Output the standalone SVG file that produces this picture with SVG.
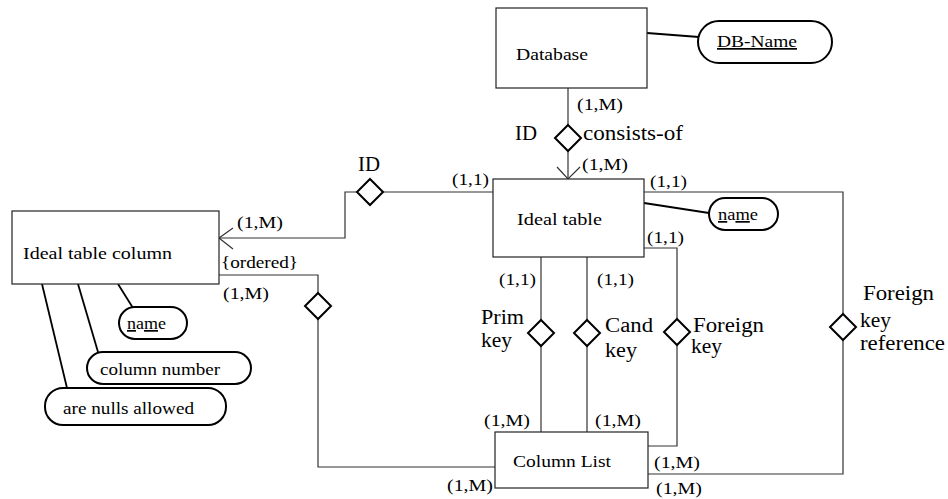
<svg xmlns="http://www.w3.org/2000/svg" width="948" height="499" viewBox="0 0 948 499">
<style>
  text { font-family: "Liberation Serif", serif; fill: #000; }
  .s { font-size: 17px; }
  .b { font-size: 20px; }
  .box { fill: #fff; stroke: #222; stroke-width: 1.2; }
  .oval { fill: #fff; stroke: #000; stroke-width: 2; }
  .dia { fill: #fff; stroke: #000; stroke-width: 2; }
  .attr { stroke: #000; stroke-width: 1.8; fill: none; }
  .conn { stroke: #333; stroke-width: 1.2; fill: none; }
  .u { text-decoration: underline; }
</style>
<rect width="948" height="499" fill="#fff"/>

<g id="connectors">
  <polyline class="conn" points="568,88 568,125"/>
  <polyline class="conn" points="568,151 568,179"/>
  <polyline class="conn" points="557,167 568,179 580,167"/>
  <polyline class="conn" points="493,192 383,192"/>
  <polyline class="conn" points="357,192 345,192 345,238 219,238"/>
  <polyline class="conn" points="233,228 219,238 233,249"/>
  <polyline class="conn" points="219,275 318,275 318,293"/>
  <polyline class="conn" points="318,319 318,467 495,467"/>
  <polyline class="conn" points="541,257 541,320"/>
  <polyline class="conn" points="541,346 541,432"/>
  <polyline class="conn" points="587,257 587,320"/>
  <polyline class="conn" points="587,346 587,432"/>
  <polyline class="conn" points="644,248 677,248 677,319"/>
  <polyline class="conn" points="677,345 677,446 648,446"/>
  <polyline class="conn" points="644,192 843,192 843,314"/>
  <polyline class="conn" points="843,340 843,474 648,474"/>
  <line class="attr" x1="647" y1="33" x2="699" y2="37"/>
  <line class="attr" x1="644" y1="203" x2="709" y2="213"/>
  <line class="attr" x1="118" y1="284" x2="133" y2="308"/>
  <line class="attr" x1="78" y1="284" x2="98" y2="352"/>
  <line class="attr" x1="42" y1="284" x2="67" y2="388"/>
</g>

<g id="database">
  <rect class="box" x="496" y="8" width="151" height="80"/>
  <text class="s" x="516" y="60" textLength="72" lengthAdjust="spacingAndGlyphs">Database</text>
</g>
<g id="db-name">
  <rect class="oval" x="698" y="21" width="134" height="42" rx="21"/>
  <text class="s u" x="717" y="47" textLength="80" lengthAdjust="spacingAndGlyphs">DB-Name</text>
</g>
<g id="ideal-table">
  <rect class="box" x="493" y="179" width="151" height="78"/>
  <text class="s" x="517" y="225" textLength="85" lengthAdjust="spacingAndGlyphs">Ideal table</text>
</g>
<g id="table-name">
  <rect class="oval" x="709" y="198" width="69" height="32" rx="16"/>
  <text class="s" x="718" y="220" textLength="40" lengthAdjust="spacingAndGlyphs"><tspan class="u">n</tspan>a<tspan class="u">m</tspan>e</text>
</g>
<g id="ideal-table-column">
  <rect class="box" x="12" y="211" width="207" height="73"/>
  <text class="s" x="23" y="259" textLength="149" lengthAdjust="spacingAndGlyphs">Ideal table column</text>
</g>
<g id="column-name">
  <rect class="oval" x="119" y="307" width="68" height="32" rx="16"/>
  <text class="s" x="127" y="329" textLength="39" lengthAdjust="spacingAndGlyphs"><tspan class="u">n</tspan>a<tspan class="u">m</tspan>e</text>
</g>
<g id="column-number">
  <rect class="oval" x="87" y="352" width="164" height="32" rx="16"/>
  <text class="s" x="100" y="375" textLength="120" lengthAdjust="spacingAndGlyphs">column number</text>
</g>
<g id="nulls-allowed">
  <rect class="oval" x="45" y="388" width="181" height="37" rx="18"/>
  <text class="s" x="63" y="414" textLength="131" lengthAdjust="spacingAndGlyphs">are nulls allowed</text>
</g>
<g id="column-list">
  <rect class="box" x="495" y="432" width="153" height="56"/>
  <text class="s" x="513" y="467" textLength="98" lengthAdjust="spacingAndGlyphs">Column List</text>
</g>

<g id="rel-consists-of">
  <polygon class="dia" points="568,125 581,138 568,151 555,138"/>
  <text class="b" x="515" y="140" textLength="22" lengthAdjust="spacingAndGlyphs">ID</text>
  <text class="b" x="583" y="140" textLength="100" lengthAdjust="spacingAndGlyphs">consists-of</text>
  <text class="s" x="577" y="110" textLength="46" lengthAdjust="spacingAndGlyphs">(1,M)</text>
  <text class="s" x="582" y="170" textLength="46" lengthAdjust="spacingAndGlyphs">(1,M)</text>
</g>
<g id="rel-id-column">
  <polygon class="dia" points="370,179 383,192 370,205 357,192"/>
  <text class="b" x="358" y="171" textLength="22" lengthAdjust="spacingAndGlyphs">ID</text>
  <text class="s" x="452" y="185" textLength="37" lengthAdjust="spacingAndGlyphs">(1,1)</text>
  <text class="s" x="237" y="228" textLength="46" lengthAdjust="spacingAndGlyphs">(1,M)</text>
</g>
<g id="rel-ordered">
  <polygon class="dia" points="318,293 331,306 318,319 305,306"/>
  <text class="s" x="221" y="268" textLength="77" lengthAdjust="spacingAndGlyphs">{ordered}</text>
  <text class="s" x="223" y="299" textLength="46" lengthAdjust="spacingAndGlyphs">(1,M)</text>
  <text class="s" x="447" y="491" textLength="46" lengthAdjust="spacingAndGlyphs">(1,M)</text>
</g>
<g id="rel-prim-key">
  <polygon class="dia" points="541,320 554,333 541,346 528,333"/>
  <text class="b" x="481" y="324" textLength="43" lengthAdjust="spacingAndGlyphs">Prim</text>
  <text class="b" x="481" y="347" textLength="31" lengthAdjust="spacingAndGlyphs">key</text>
  <text class="s" x="499" y="285" textLength="37" lengthAdjust="spacingAndGlyphs">(1,1)</text>
  <text class="s" x="484" y="426" textLength="46" lengthAdjust="spacingAndGlyphs">(1,M)</text>
</g>
<g id="rel-cand-key">
  <polygon class="dia" points="587,320 600,333 587,346 574,333"/>
  <text class="b" x="605" y="332" textLength="48" lengthAdjust="spacingAndGlyphs">Cand</text>
  <text class="b" x="605" y="357" textLength="32" lengthAdjust="spacingAndGlyphs">key</text>
  <text class="s" x="597" y="285" textLength="37" lengthAdjust="spacingAndGlyphs">(1,1)</text>
  <text class="s" x="595" y="426" textLength="46" lengthAdjust="spacingAndGlyphs">(1,M)</text>
</g>
<g id="rel-foreign-key">
  <polygon class="dia" points="677,319 690,332 677,345 664,332"/>
  <text class="b" x="693" y="332" textLength="71" lengthAdjust="spacingAndGlyphs">Foreign</text>
  <text class="b" x="691" y="353" textLength="31" lengthAdjust="spacingAndGlyphs">key</text>
  <text class="s" x="647" y="243" textLength="37" lengthAdjust="spacingAndGlyphs">(1,1)</text>
  <text class="s" x="654" y="468" textLength="46" lengthAdjust="spacingAndGlyphs">(1,M)</text>
</g>
<g id="rel-foreign-key-reference">
  <polygon class="dia" points="843,314 856,327 843,340 830,327"/>
  <text class="b" x="863" y="300" textLength="71" lengthAdjust="spacingAndGlyphs">Foreign</text>
  <text class="b" x="860" y="327" textLength="31" lengthAdjust="spacingAndGlyphs">key</text>
  <text class="b" x="860" y="350" textLength="85" lengthAdjust="spacingAndGlyphs">reference</text>
  <text class="s" x="650" y="187" textLength="37" lengthAdjust="spacingAndGlyphs">(1,1)</text>
  <text class="s" x="656" y="494" textLength="46" lengthAdjust="spacingAndGlyphs">(1,M)</text>
</g>
</svg>
